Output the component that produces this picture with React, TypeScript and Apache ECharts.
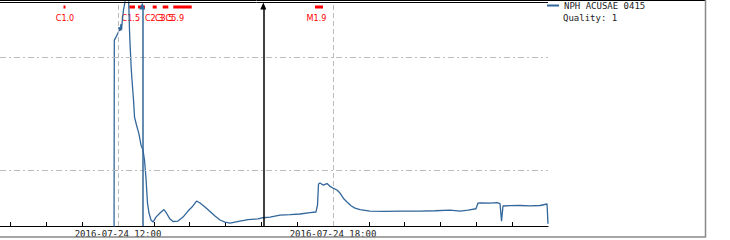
import React, { useEffect, useRef } from "react";
import * as echarts from "echarts";

// time in hours of 2016-07-24 (UTC)
const TIMES = [
  11.888, 11.897, 11.944, 11.986, 12.014, 12.028, 12.056, 12.084, 12.098, 12.126,
  12.153, 12.195, 12.237, 12.293, 12.321, 12.335, 12.354, 12.368, 12.391, 12.433,
  12.461, 12.516, 12.586, 12.642, 12.698, 12.74, 12.781, 12.823, 12.865, 12.921,
  12.977, 13.061, 13.172, 13.284, 13.368, 13.451, 13.535, 13.675, 13.814, 13.954,
  14.065, 14.191, 14.289, 14.428, 14.568, 14.707, 14.847, 14.986, 15.126, 15.265,
  15.405, 15.628, 15.907, 16.047, 16.242, 16.521, 16.8, 17.08, 17.359, 17.526,
  17.568, 17.596, 17.638, 17.722, 17.833, 17.917, 18.0, 18.112, 18.195, 18.307,
  18.391, 18.503, 18.614, 18.754, 19.033, 19.452, 19.87, 20.428, 20.847, 21.266,
  21.545, 21.768, 21.991, 22.047, 22.103, 22.382, 22.577, 22.661, 22.703, 22.745,
  22.94, 23.22, 23.499, 23.778, 23.973, 24.0,
];
const VALUES = [
  1, 141, 150, 160, 166, 184, 170, 196, 173, 221,
  260, 307, 380, 360, 173, 133, 100, 80, 62.5, 41.6,
  29.4, 25.0, 20.8, 16.6, 15.0, 12.2, 8.49, 5.1, 4.16, 3.61,
  3.46, 3.83, 4.16, 4.47, 4.08, 3.68, 3.5, 3.53, 3.83, 4.33,
  4.7, 5.31, 5.1, 4.7, 4.29, 3.91, 3.61, 3.46, 3.39, 3.46,
  3.53, 3.63, 3.7, 3.78, 3.83, 3.99, 4.02, 4.08, 4.19, 4.25,
  4.9, 7.51, 7.67, 7.36, 7.59, 7.17, 6.92, 6.65, 6.25, 5.53,
  5.2, 4.83, 4.6, 4.45, 4.33, 4.3, 4.33, 4.33, 4.36, 4.42,
  4.33, 4.42, 4.54, 5.1, 5.12, 5.1, 5.15, 5.05, 3.53, 4.8,
  4.83, 4.85, 4.82, 4.85, 5.0, 3.34,
];

const FLARE_START = [10.479, 12.315, 12.558, 12.968, 13.248, 13.543, 17.498];
const FLARE_END = [10.535, 12.474, 12.754, 13.08, 13.404, 14.057, 17.721];
const FLARE_CLASS = ["C1.0", "C1.5", "", "C2.3", "C3.5", "C5.9", "M1.9"];

const MARKER_TIMES = [12.678, 16.055];
const MARKER_COLORS = ["#32679b", "#000000"];

const TICK_HOURS = [9, 10, 11, 12, 13, 14, 15, 16, 17, 18, 19, 20, 21, 22, 23];
const LABEL_HOURS = [12, 18];
const GRID_VALUES = [10, 100];

const X_MIN = 8.707;
const X_MAX = 24;
const Y_MIN = 3.194;
const Y_MAX = 306.7;
const ARROW_TOP = 282.6;

const SERIES_NAME = "NPH ACUSAE 0415";
const QUALITY = "Quality: 1";
const LINE_COLOR = "#32679b";
const MONO = '"DejaVu Sans Mono", monospace';

export default function App() {
  const ref = useRef<HTMLDivElement>(null);
  useEffect(() => {
    if (!ref.current) return;
    const chart = echarts.init(ref.current, null, { renderer: "svg" });
    const points = TIMES.map((t, i) => [t, VALUES[i]]);
    const flares = FLARE_START.map((s, i) => [s, FLARE_END[i], i]);
    chart.setOption({
      animation: false,
      backgroundColor: "#ffffff",
      grid: {
        left: 0,
        right: 182,
        top: 2,
        bottom: 14,
        containLabel: false,
        outerBoundsMode: "none",
      },
      legend: {
        data: [SERIES_NAME],
        left: 547,
        top: 1,
        padding: 0,
        orient: "vertical",
        icon: "rect",
        itemWidth: 12,
        itemHeight: 2,
        textStyle: { fontFamily: MONO, fontSize: 9, color: "#222" },
      },
      xAxis: {
        type: "value",
        min: X_MIN,
        max: X_MAX,
        axisLine: { show: true, onZero: false, lineStyle: { color: "#000", width: 1.2 } },
        axisTick: {
          show: true,
          inside: true,
          length: 4,
          customValues: TICK_HOURS,
          lineStyle: { color: "#000" },
        },
        axisLabel: {
          show: true,
          customValues: LABEL_HOURS,
          margin: 3,
          fontFamily: MONO,
          fontSize: 9,
          color: "#222",
          formatter: (v: number) => `2016-07-24 ${String(Math.round(v)).padStart(2, "0")}:00`,
        },
        splitLine: { show: false },
      },
      yAxis: {
        type: "log",
        min: Y_MIN,
        max: Y_MAX,
        show: false,
        splitLine: { show: false },
      },
      graphic: [
        { type: "line", shape: { x1: 0, y1: 0.5, x2: 705, y2: 0.5 }, style: { stroke: "#000", lineWidth: 1 }, z: 10 },
        { type: "line", shape: { x1: 0, y1: 2.5, x2: 548, y2: 2.5 }, style: { stroke: "#000", lineWidth: 1 }, z: 10 },
        { type: "line", shape: { x1: 705.5, y1: 0, x2: 705.5, y2: 237.5 }, style: { stroke: "#888", lineWidth: 1.5 }, z: 10 },
        { type: "line", shape: { x1: 0, y1: 237, x2: 705.5, y2: 237 }, style: { stroke: "#888", lineWidth: 1.5 }, z: 10 },
        {
          type: "text",
          x: 563,
          y: 17.5,
          style: { text: QUALITY, fill: "#222", font: `9px ${MONO}`, verticalAlign: "middle" },
        },
      ],
      series: [
        {
          name: "grid",
          type: "line",
          data: [],
          z: 1,
          silent: true,
          markLine: {
            silent: true,
            symbol: "none",
            label: { show: false },
            data: [
              ...GRID_VALUES.map((v) => ({
                yAxis: v,
                lineStyle: { color: "#bbbbbb", width: 1, type: [6, 3, 2, 3] },
              })),
              ...LABEL_HOURS.map((h) => ({
                xAxis: h,
                lineStyle: { color: "#bbbbbb", width: 1, type: [5, 3] },
              })),
            ],
          },
        },
        {
          name: "flares",
          type: "custom",
          clip: false,
          z: 2,
          silent: true,
          data: flares,
          encode: { x: [0, 1] },
          renderItem: (params: any, api: any) => {
            const i = api.value(2);
            const x0 = api.coord([api.value(0), 10])[0];
            const x1 = api.coord([api.value(1), 10])[0];
            return {
              type: "group",
              children: [
                {
                  type: "rect",
                  shape: { x: x0, y: 5.5, width: Math.max(x1 - x0, 2), height: 3 },
                  style: { fill: "#ff0000" },
                },
                {
                  type: "text",
                  x: x0 + 1.5,
                  y: 18,
                  style: {
                    text: FLARE_CLASS[i],
                    fill: "#ff0000",
                    fontSize: 9,
                    fontFamily: '"Liberation Sans Narrow", "DejaVu Sans Condensed", sans-serif',
                    align: "center",
                    verticalAlign: "middle",
                  },
                },
              ],
            };
          },
        },
        {
          name: SERIES_NAME,
          type: "line",
          data: points,
          showSymbol: false,
          symbol: "none",
          z: 3,
          lineStyle: { color: LINE_COLOR, width: 1.3 },
          itemStyle: { color: LINE_COLOR },
          markLine: {
            silent: true,
            label: { show: false },
            symbol: ["none", "triangle"],
            symbolSize: [6, 7],
            data: MARKER_TIMES.map((t, i) => [
              { coord: [t, Y_MIN], lineStyle: { color: MARKER_COLORS[i], width: 1.5, type: "solid" }, itemStyle: { color: MARKER_COLORS[i] } },
              { coord: [t, ARROW_TOP], itemStyle: { color: MARKER_COLORS[i] } },
            ]),
          },
        },
      ],
    });
    return () => chart.dispose();
  }, []);
  return (
    <div
      ref={ref}
      style={{ position: "absolute", left: 0, top: 0, width: 730, height: 240 }}
    />
  );
}
